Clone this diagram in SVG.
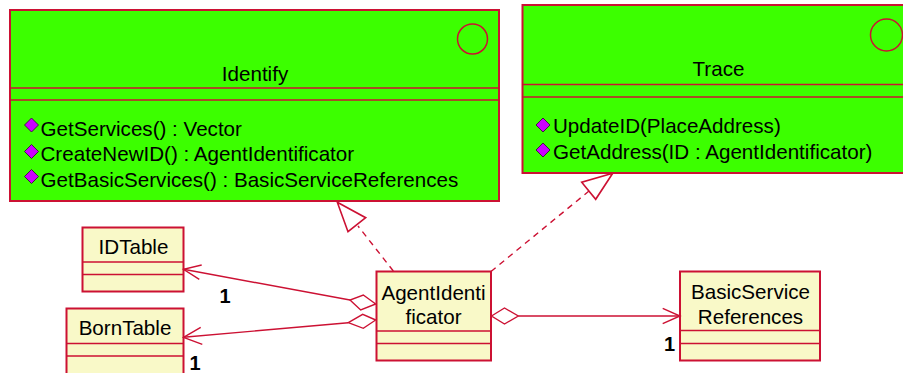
<svg xmlns="http://www.w3.org/2000/svg" width="903" height="373" viewBox="0 0 903 373">
<style>
.iface{fill:#3cff00;stroke:#cc1133;stroke-width:2}
.cls{fill:#f9f9c8;stroke:#cc1133;stroke-width:2}
.sep{stroke:#cc1133;stroke-width:1.5;fill:none}
.t{font-family:"Liberation Sans",Arial,sans-serif;font-size:20.6px;fill:#000}
.c{text-anchor:middle}
.m{font-weight:bold;font-size:20px}
.op{fill:#cc00ff;stroke:#330033;stroke-width:0.8}
.ln{stroke:#cc1133;stroke-width:1.4;fill:none}
.dash{stroke:#cc1133;stroke-width:1.4;fill:none;stroke-dasharray:6 5}
.dia{fill:#ffffff;stroke:#cc1133;stroke-width:1.4}
.tri{fill:#ffffff;stroke:#cc1133;stroke-width:1.6}
</style>
<rect width="903" height="373" fill="#ffffff"/>

<g id="Identify">
<rect class="iface" x="10" y="10" width="489" height="191"/>
<circle class="sep" cx="472.5" cy="39" r="15"/>
<line class="sep" x1="10" y1="88" x2="499" y2="88"/>
<line class="sep" x1="10" y1="100" x2="499" y2="100"/>
<text class="t c" x="255" y="81">Identify</text>
<path class="op" d="M31.5 118 L38.5 125 L31.5 132 L24.5 125 Z"/>
<text class="t" x="40.5" y="135.5">GetServices() : Vector</text>
<path class="op" d="M31.5 144.5 L38.5 151.5 L31.5 158.5 L24.5 151.5 Z"/>
<text class="t" x="40.5" y="161">CreateNewID() : AgentIdentificator</text>
<path class="op" d="M31.5 169.5 L38.5 176.5 L31.5 183.5 L24.5 176.5 Z"/>
<text class="t" x="40.5" y="186.5">GetBasicServices() : BasicServiceReferences</text>
</g>

<g id="Trace">
<rect class="iface" x="522.5" y="5" width="392" height="168"/>
<circle class="sep" cx="886.5" cy="35" r="16"/>
<line class="sep" x1="522.5" y1="84.5" x2="914.5" y2="84.5"/>
<line class="sep" x1="522.5" y1="97" x2="914.5" y2="97"/>
<text class="t c" x="718.5" y="76">Trace</text>
<path class="op" d="M543 118 L550 125 L543 132 L536 125 Z"/>
<text class="t" x="553" y="133">UpdateID(PlaceAddress)</text>
<path class="op" d="M543 143 L550 150 L543 157 L536 150 Z"/>
<text class="t" x="553" y="159">GetAddress(ID : AgentIdentificator)</text>
</g>

<g id="IDTable">
<rect class="cls" x="82.5" y="227.5" width="101" height="64"/>
<line class="sep" x1="82.5" y1="262" x2="183.5" y2="262"/>
<line class="sep" x1="82.5" y1="274.5" x2="183.5" y2="274.5"/>
<text class="t c" x="133.5" y="254">IDTable</text>
</g>

<g id="BornTable">
<rect class="cls" x="66.5" y="308.5" width="117" height="80"/>
<line class="sep" x1="66.5" y1="343.5" x2="183.5" y2="343.5"/>
<line class="sep" x1="66.5" y1="356" x2="183.5" y2="356"/>
<text class="t c" x="125" y="335">BornTable</text>
</g>

<g id="AgentIdentificator">
<rect class="cls" x="376.5" y="271.5" width="114.5" height="89"/>
<line class="sep" x1="376.5" y1="331" x2="491" y2="331"/>
<line class="sep" x1="376.5" y1="343.5" x2="491" y2="343.5"/>
<text class="t c" x="433.5" y="299.5">AgentIdenti</text>
<text class="t c" x="433.5" y="323.5">ficator</text>
</g>

<g id="BasicServiceReferences">
<rect class="cls" x="680" y="271.5" width="140" height="89"/>
<line class="sep" x1="680" y1="330.5" x2="820" y2="330.5"/>
<line class="sep" x1="680" y1="343.5" x2="820" y2="343.5"/>
<text class="t c" x="750.5" y="299">BasicService</text>
<text class="t c" x="750.5" y="324">References</text>
</g>

<g id="connectors">
<line class="dash" x1="393.3" y1="271" x2="358" y2="226"/>
<path class="tri" d="M337.3 202.3 L365.7 217.7 L348 231.7 Z"/>
<line class="dash" x1="491" y1="271.5" x2="589" y2="191"/>
<path class="tri" d="M612.7 173.3 L581.7 182.3 L595.7 199.3 Z"/>
<line class="ln" x1="350" y1="300" x2="183.5" y2="269.3"/>
<path class="ln" d="M201.7 265 L183.5 269.3 L199.3 279.3"/>
<path class="dia" d="M375.7 304 L363.3 295 L350 300 L360.7 310 Z"/>
<line class="ln" x1="348.3" y1="322.7" x2="183.5" y2="337.3"/>
<path class="ln" d="M200.7 327.3 L183.5 337.3 L202.3 344.3"/>
<path class="dia" d="M375.7 320 L362.7 314.3 L348.3 322.7 L363.3 328.3 Z"/>
<line class="ln" x1="518.3" y1="316" x2="680" y2="316"/>
<path class="ln" d="M662.7 308.3 L680 316 L662.7 323.7"/>
<path class="dia" d="M491.5 316 L504.5 308 L518.3 316 L504.5 324 Z"/>
<text class="t c m" x="225" y="302.5">1</text>
<text class="t c m" x="195" y="370">1</text>
<text class="t c m" x="669.5" y="351">1</text>
</g>
</svg>
